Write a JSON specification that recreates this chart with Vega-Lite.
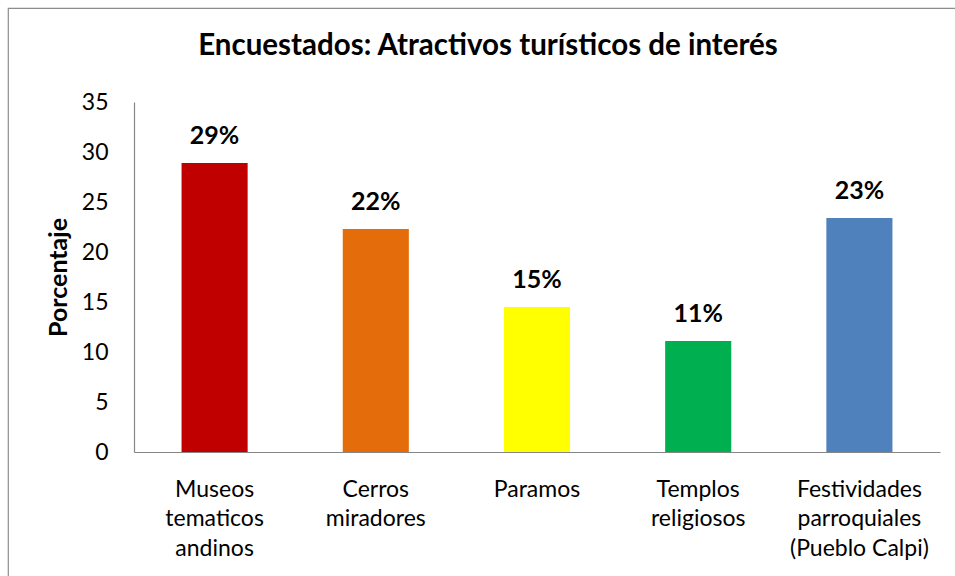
{
  "$schema": "https://vega.github.io/schema/vega-lite/v6.json",
  "autosize": {"type": "none"},
  "padding": {"left": 8, "top": 8, "right": 0, "bottom": 0},
  "width": 960,
  "height": 580,
  "background": "white",
  "config": {"view": {"stroke": "#8c8c8c", "strokeWidth": 1.2}, "font": "Lato"},
  "title": {
    "text": "Encuestados: Atractivos turísticos de interés",
    "font": "Lato",
    "fontSize": 29.5,
    "fontWeight": "bold",
    "color": "black",
    "anchor": "middle",
    "baseline": "alphabetic",
    "offset": -76
  },
  "data": {
    "values": [
      {"cat": "Museos|tematicos|andinos", "v": 28.9, "lbl": "29%"},
      {"cat": "Cerros|miradores", "v": 22.3, "lbl": "22%"},
      {"cat": "Paramos", "v": 14.5, "lbl": "15%"},
      {"cat": "Templos|religiosos", "v": 11.1, "lbl": "11%"},
      {"cat": "Festividades|parroquiales|(Pueblo Calpi)", "v": 23.4, "lbl": "23%"}
    ]
  },
  "encoding": {
    "x": {
      "field": "cat",
      "type": "nominal",
      "sort": null,
      "scale": {"range": [126, 932], "paddingInner": 0.59, "paddingOuter": 0.295},
      "axis": {
        "title": null,
        "offset": -136,
        "labelAngle": 0,
        "ticks": false,
        "domainColor": "#868686",
        "domainWidth": 1.2,
        "labelExpr": "split(datum.label, '|')",
        "labelFont": "Lato",
        "labelFontSize": 23,
        "labelColor": "black",
        "labelPadding": 26,
        "labelLineHeight": 29.5,
        "labelBaseline": "top"
      }
    },
    "y": {
      "field": "v",
      "type": "quantitative",
      "scale": {"domain": [0, 35], "range": [444, 94], "nice": false},
      "axis": {
        "title": "Porcentaje",
        "offset": -126,
        "values": [0, 5, 10, 15, 20, 25, 30, 35],
        "grid": false,
        "ticks": false,
        "domainColor": "#868686",
        "domainWidth": 1.2,
        "labelFont": "Lato",
        "labelFontSize": 23,
        "labelColor": "black",
        "labelPadding": 26,
        "titleFont": "Lato",
        "titleFontSize": 25,
        "titleFontWeight": "bold",
        "titleColor": "black",
        "titlePadding": 10
      }
    }
  },
  "layer": [
    {
      "mark": {"type": "bar"},
      "encoding": {
        "color": {
          "field": "cat",
          "type": "nominal",
          "sort": null,
          "scale": {"range": ["#C00000", "#E46C0A", "#FFFF00", "#00B050", "#4F81BD"]},
          "legend": null
        }
      }
    },
    {
      "mark": {"type": "text", "font": "Lato", "fontSize": 25, "fontWeight": "bold", "color": "black", "baseline": "alphabetic", "dy": -19},
      "encoding": {"text": {"field": "lbl"}}
    }
  ]
}
